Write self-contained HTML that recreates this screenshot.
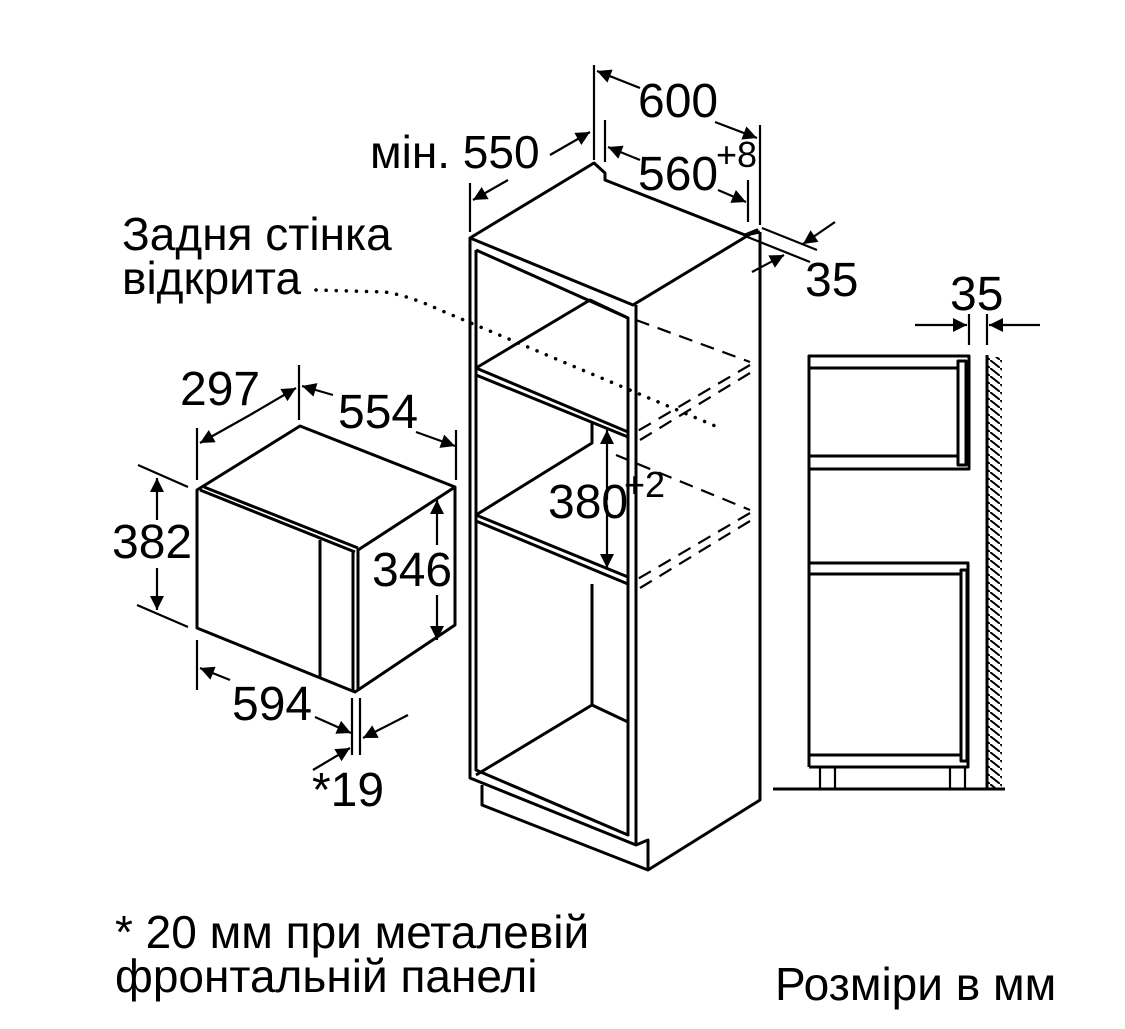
<!DOCTYPE html>
<html><head><meta charset="utf-8"><style>
html,body{margin:0;padding:0;background:#fff}
svg{display:block}
text{font-family:"Liberation Sans",Arial,sans-serif;fill:#000}
</style></head><body>
<svg width="1125" height="1029" viewBox="0 0 1125 1029" xmlns="http://www.w3.org/2000/svg">
<defs>
<marker id="b" viewBox="0 0 10 10" refX="10" refY="5" markerWidth="22" markerHeight="14" markerUnits="userSpaceOnUse" orient="auto"><path d="M0,0 L10,5 L0,10 z" fill="#000"/></marker>
<pattern id="h" width="10" height="8" patternUnits="userSpaceOnUse"><path d="M0,0 L14,11" stroke="#000" stroke-width="2"/></pattern>
</defs>
<g fill="none" stroke="#000" stroke-width="3" stroke-linejoin="round">
<!-- cabinet -->
<path d="M470,238 L594,163 L605,173 L605,180 L745,235 L757,230 L633,305 Z"/>
<path d="M745,235 L760,232"/>
<path d="M470,238 L470,778 L636,845 L636,305"/>
<path d="M476,250 L476,770 L628,835 L628,318 L476,250"/>
<path d="M760,232 L760,800 L648,870 L482,805 L482,785"/>
<path d="M636,845 L648,840 L648,870"/>
<path d="M476,368 L628,432 M476,375 L628,437 M476,368 L590,300 L628,318"/>
<path d="M476,515 L628,577 M476,521 L628,584 M476,515 L592,443 L592,423"/>
<path d="M592,584 L592,705 L628,722 M476,775 L592,705"/>
<g stroke-width="2.2" stroke-dasharray="14,9">
<path d="M636,320 L750,362 M750,365 L636,432 M750,373 L640,440"/>
<path d="M616,455 L750,510 M750,513 L636,580 M750,521 L640,588"/>
</g>
<path d="M316,290 L385,292 Q410,296 440,310 L720,428" stroke-width="3.5" stroke-dasharray="0.1,10" stroke-linecap="round"/>
<!-- top dims -->
<path d="M594,65 L594,160 M760,125 L760,225 M605,120 L605,162 M748,180 L748,222 M470,183 L470,232" stroke-width="2.2"/>
<path d="M640,88 L597,71" stroke-width="2.2" marker-end="url(#b)"/>
<path d="M715,122 L757,138" stroke-width="2.2" marker-end="url(#b)"/>
<path d="M640,160 L608,147" stroke-width="2.2" marker-end="url(#b)"/>
<path d="M718,190 L746,202" stroke-width="2.2" marker-end="url(#b)"/>
<path d="M508,180 L473,200" stroke-width="2.2" marker-end="url(#b)"/>
<path d="M550,155 L590,132" stroke-width="2.2" marker-end="url(#b)"/>
<path d="M762,228 L817,250 M745,236 L810,262" stroke-width="2.2"/>
<path d="M835,222 L803,244" stroke-width="2.2" marker-end="url(#b)"/>
<path d="M752,272 L784,255" stroke-width="2.2" marker-end="url(#b)"/>
<path d="M760,285 L760,300" stroke-width="2.2"/>
<path d="M607,500 L607,430" stroke-width="2.2" marker-end="url(#b)"/>
<path d="M607,505 L607,568" stroke-width="2.2" marker-end="url(#b)"/>
<!-- microwave -->
<path d="M197,490 L300,426 L455,487 L455,625 L355,692 L197,628 Z"/>
<path d="M455,487 L358,550 L358,690 M200,490 L355,552 M204,487 L358,548 M353,552 L353,692 M320,540 L320,677"/>
<path d="M197,428 L197,480 M299,365 L299,420 M456,430 L456,480" stroke-width="2.2"/>
<path d="M250,415 L296,388" stroke-width="2.2" marker-end="url(#b)"/>
<path d="M250,415 L200,443" stroke-width="2.2" marker-end="url(#b)"/>
<path d="M333,395 L302,386" stroke-width="2.2" marker-end="url(#b)"/>
<path d="M416,432 L455,446" stroke-width="2.2" marker-end="url(#b)"/>
<path d="M138,465 L188,487 M137,605 L188,627" stroke-width="2.2"/>
<path d="M157,520 L157,478" stroke-width="2.2" marker-end="url(#b)"/>
<path d="M157,568 L157,610" stroke-width="2.2" marker-end="url(#b)"/>
<path d="M437,545 L437,500" stroke-width="2.2" marker-end="url(#b)"/>
<path d="M437,595 L437,640" stroke-width="2.2" marker-end="url(#b)"/>
<path d="M197,640 L197,690 M352,698 L352,755 M360,698 L360,755" stroke-width="2.2"/>
<path d="M230,680 L200,668" stroke-width="2.2" marker-end="url(#b)"/>
<path d="M315,717 L351,733" stroke-width="2.2" marker-end="url(#b)"/>
<path d="M408,715 L363,738" stroke-width="2.2" marker-end="url(#b)"/>
<path d="M313,770 L350,748" stroke-width="2.2" marker-end="url(#b)"/>
<!-- side view -->
<path d="M809,767 L809,356 L969,356 L969,469 L809,469 M809,368 L957,368 M809,456 L957,456 M958,361 L966,361 L966,465 L958,465 Z"/>
<path d="M809,563 L968,563 L968,767 L809,767 M809,574 L961,574 M809,755 L961,755 M961,570 L967,570 L967,761 L961,761 Z"/>
<path d="M820,767 L820,789 M835,767 L835,789 M950,767 L950,789 M965,767 L965,789" stroke-width="2.2"/>
<path d="M773,789 L1005,789 M987,355 L987,789"/>
<rect x="988" y="357" width="14" height="431" fill="url(#h)" stroke="none"/>
<path d="M969,314 L969,345 M987,314 L987,345" stroke-width="2.2"/>
<path d="M915,325 L967,325" stroke-width="2.2" marker-end="url(#b)"/>
<path d="M1040,325 L989,325" stroke-width="2.2" marker-end="url(#b)"/>
</g>
<g font-size="48">
<text x="638" y="117">600</text>
<text x="370" y="168" font-size="46">мін. 550</text>
<text x="638" y="190">560</text><text x="716" y="167" font-size="36">+8</text>
<text x="805" y="296">35</text>
<text x="950" y="310">35</text>
<text x="548" y="518">380</text><text x="624" y="497" font-size="36">+2</text>
<text x="180" y="405">297</text>
<text x="338" y="428">554</text>
<text x="112" y="558">382</text>
<text x="372" y="586">346</text>
<text x="232" y="720">594</text>
<text x="312" y="806">*19</text>
</g>
<g font-size="46">
<text x="122" y="250">Задня стінка</text>
<text x="122" y="294">відкрита</text>
<text x="115" y="948">* 20 мм при металевій</text>
<text x="115" y="992">фронтальній панелі</text>
<text x="775" y="1000">Розміри в мм</text>
</g>
</svg>
</body></html>
